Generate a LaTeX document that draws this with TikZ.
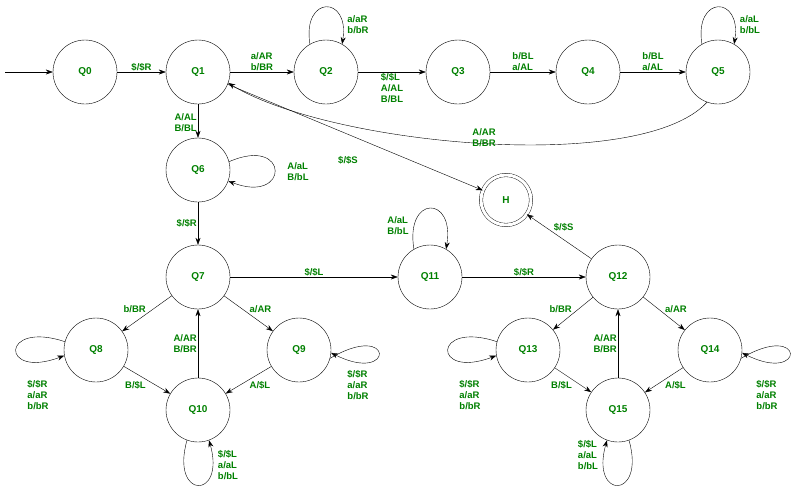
\documentclass[tikz,border=0pt]{standalone}
\usepackage{fontspec}
\setmainfont{Liberation Sans}
\usetikzlibrary{arrows.meta}
\definecolor{lbl}{RGB}{0,128,0}
\begin{document}
\begin{tikzpicture}[x=1pt,y=-1pt,
  st/.style={circle,draw,minimum size=64pt,inner sep=0pt,font=\fontsize{10}{12}\selectfont\bfseries\color{lbl}},
  acc/.style={st,double,double distance=3pt,minimum size=50pt},
  lb/.style={font=\fontsize{9.5}{11}\selectfont\bfseries,text=lbl,align=left,inner sep=1pt},
  >={Stealth[length=7pt,width=5pt]}]
\useasboundingbox (0,0) rectangle (794,491);
\node[st] (q0) at (85,72) {Q0};
\node[st] (q1) at (198,72) {Q1};
\node[st] (q2) at (326,72) {Q2};
\node[st] (q3) at (458,72) {Q3};
\node[st] (q4) at (588,72) {Q4};
\node[st] (q5) at (718,72) {Q5};
\node[st] (q6) at (198,170) {Q6};
\node[acc] (h) at (506,200) {H};
\node[st] (q7) at (198,277) {Q7};
\node[st] (q11) at (430,277) {Q11};
\node[st] (q12) at (618,277) {Q12};
\node[st] (q8) at (96,350) {Q8};
\node[st] (q9) at (299,350) {Q9};
\node[st] (q10) at (198,410) {Q10};
\node[st] (q13) at (528,350) {Q13};
\node[st] (q14) at (710,350) {Q14};
\node[st] (q15) at (618,410) {Q15};
\coordinate (s) at (5,72);

\draw[->] (s) -- (q0);
\draw[->] (q0) -- node[lb,above]{\$/\$R} (q1);
\draw[->] (q1) -- node[lb,above]{a/AR\\b/BR} (q2);
\draw[->] (q2) -- node[lb,below]{\$/\$L\\A/AL\\B/BL} (q3);
\draw[->] (q3) -- node[lb,above]{b/BL\\a/AL} (q4);
\draw[->] (q4) -- node[lb,above]{b/BL\\a/AL} (q5);
\draw[->] (q2.120) .. controls (302,-5) and (350,-5) .. (q2.60);
\node[lb] at (358,25) {a/aR\\b/bR};
\draw[->] (q5.120) .. controls (694,-5) and (742,-5) .. (q5.60);
\node[lb] at (750,25) {a/aL\\b/bL};
\draw[->] (q5.250) .. controls (640,175) and (330,145) .. (q1.-20);
\node[lb] at (484,138) {A/AR\\B/BR};
\draw[->] (q1) -- node[lb,left,pos=0.55]{A/AL\\B/BL} (q6);
\draw[->] (q1) -- (h);
\node[lb] at (348,160) {\$/\$S};
\draw[->] (q6.15) .. controls (290,135) and (290,205) .. (q6.-20);
\node[lb] at (298,172) {A/aL\\B/bL};
\draw[->] (q6) -- node[lb,left]{\$/\$R} (q7);
\draw[->] (q7) -- node[lb,above]{\$/\$L} (q11);
\draw[->] (q11.120) .. controls (405,195) and (455,195) .. (q11.60);
\node[lb] at (398,226) {A/aL\\B/bL};
\draw[->] (q11) -- node[lb,above]{\$/\$R} (q12);
\draw[->] (q12) -- node[lb,above right,pos=0.6]{\$/\$S} (h);

\draw[->] (q7) -- node[lb,above left]{b/BR} (q8);
\draw[->] (q7) -- node[lb,above right]{a/AR} (q9);
\draw[->] (q8) -- node[lb,below left]{B/\$L} (q10);
\draw[->] (q9) -- node[lb,below right]{A/\$L} (q10);
\draw[->] (q10) -- node[lb,left]{A/AR\\B/BR} (q7);
\draw[->] (q8.165) .. controls (0,320) and (0,380) .. (q8.190);
\node[lb] at (38,395) {\$/\$R\\a/aR\\b/bR};
\draw[->] (q9.-15) .. controls (395,320) and (395,385) .. (q9.-5);
\node[lb] at (358,385) {\$/\$R\\a/aR\\b/bR};
\draw[->] (q10.250) .. controls (170,500) and (226,500) .. (q10.290);
\node[lb] at (228,465) {\$/\$L\\a/aL\\b/bL};

\draw[->] (q12) -- node[lb,above left]{b/BR} (q13);
\draw[->] (q12) -- node[lb,above right]{a/AR} (q14);
\draw[->] (q13) -- node[lb,below left]{B/\$L} (q15);
\draw[->] (q14) -- node[lb,below right]{A/\$L} (q15);
\draw[->] (q15) -- node[lb,left]{A/AR\\B/BR} (q12);
\draw[->] (q13.165) .. controls (432,320) and (432,380) .. (q13.190);
\node[lb] at (470,395) {\$/\$R\\a/aR\\b/bR};
\draw[->] (q14.-15) .. controls (806,320) and (806,385) .. (q14.-5);
\node[lb] at (767,395) {\$/\$R\\a/aR\\b/bR};
\draw[->] (q15.290) .. controls (646,500) and (590,500) .. (q15.250);
\node[lb] at (588,455) {\$/\$L\\a/aL\\b/bL};
\end{tikzpicture}
\end{document}
